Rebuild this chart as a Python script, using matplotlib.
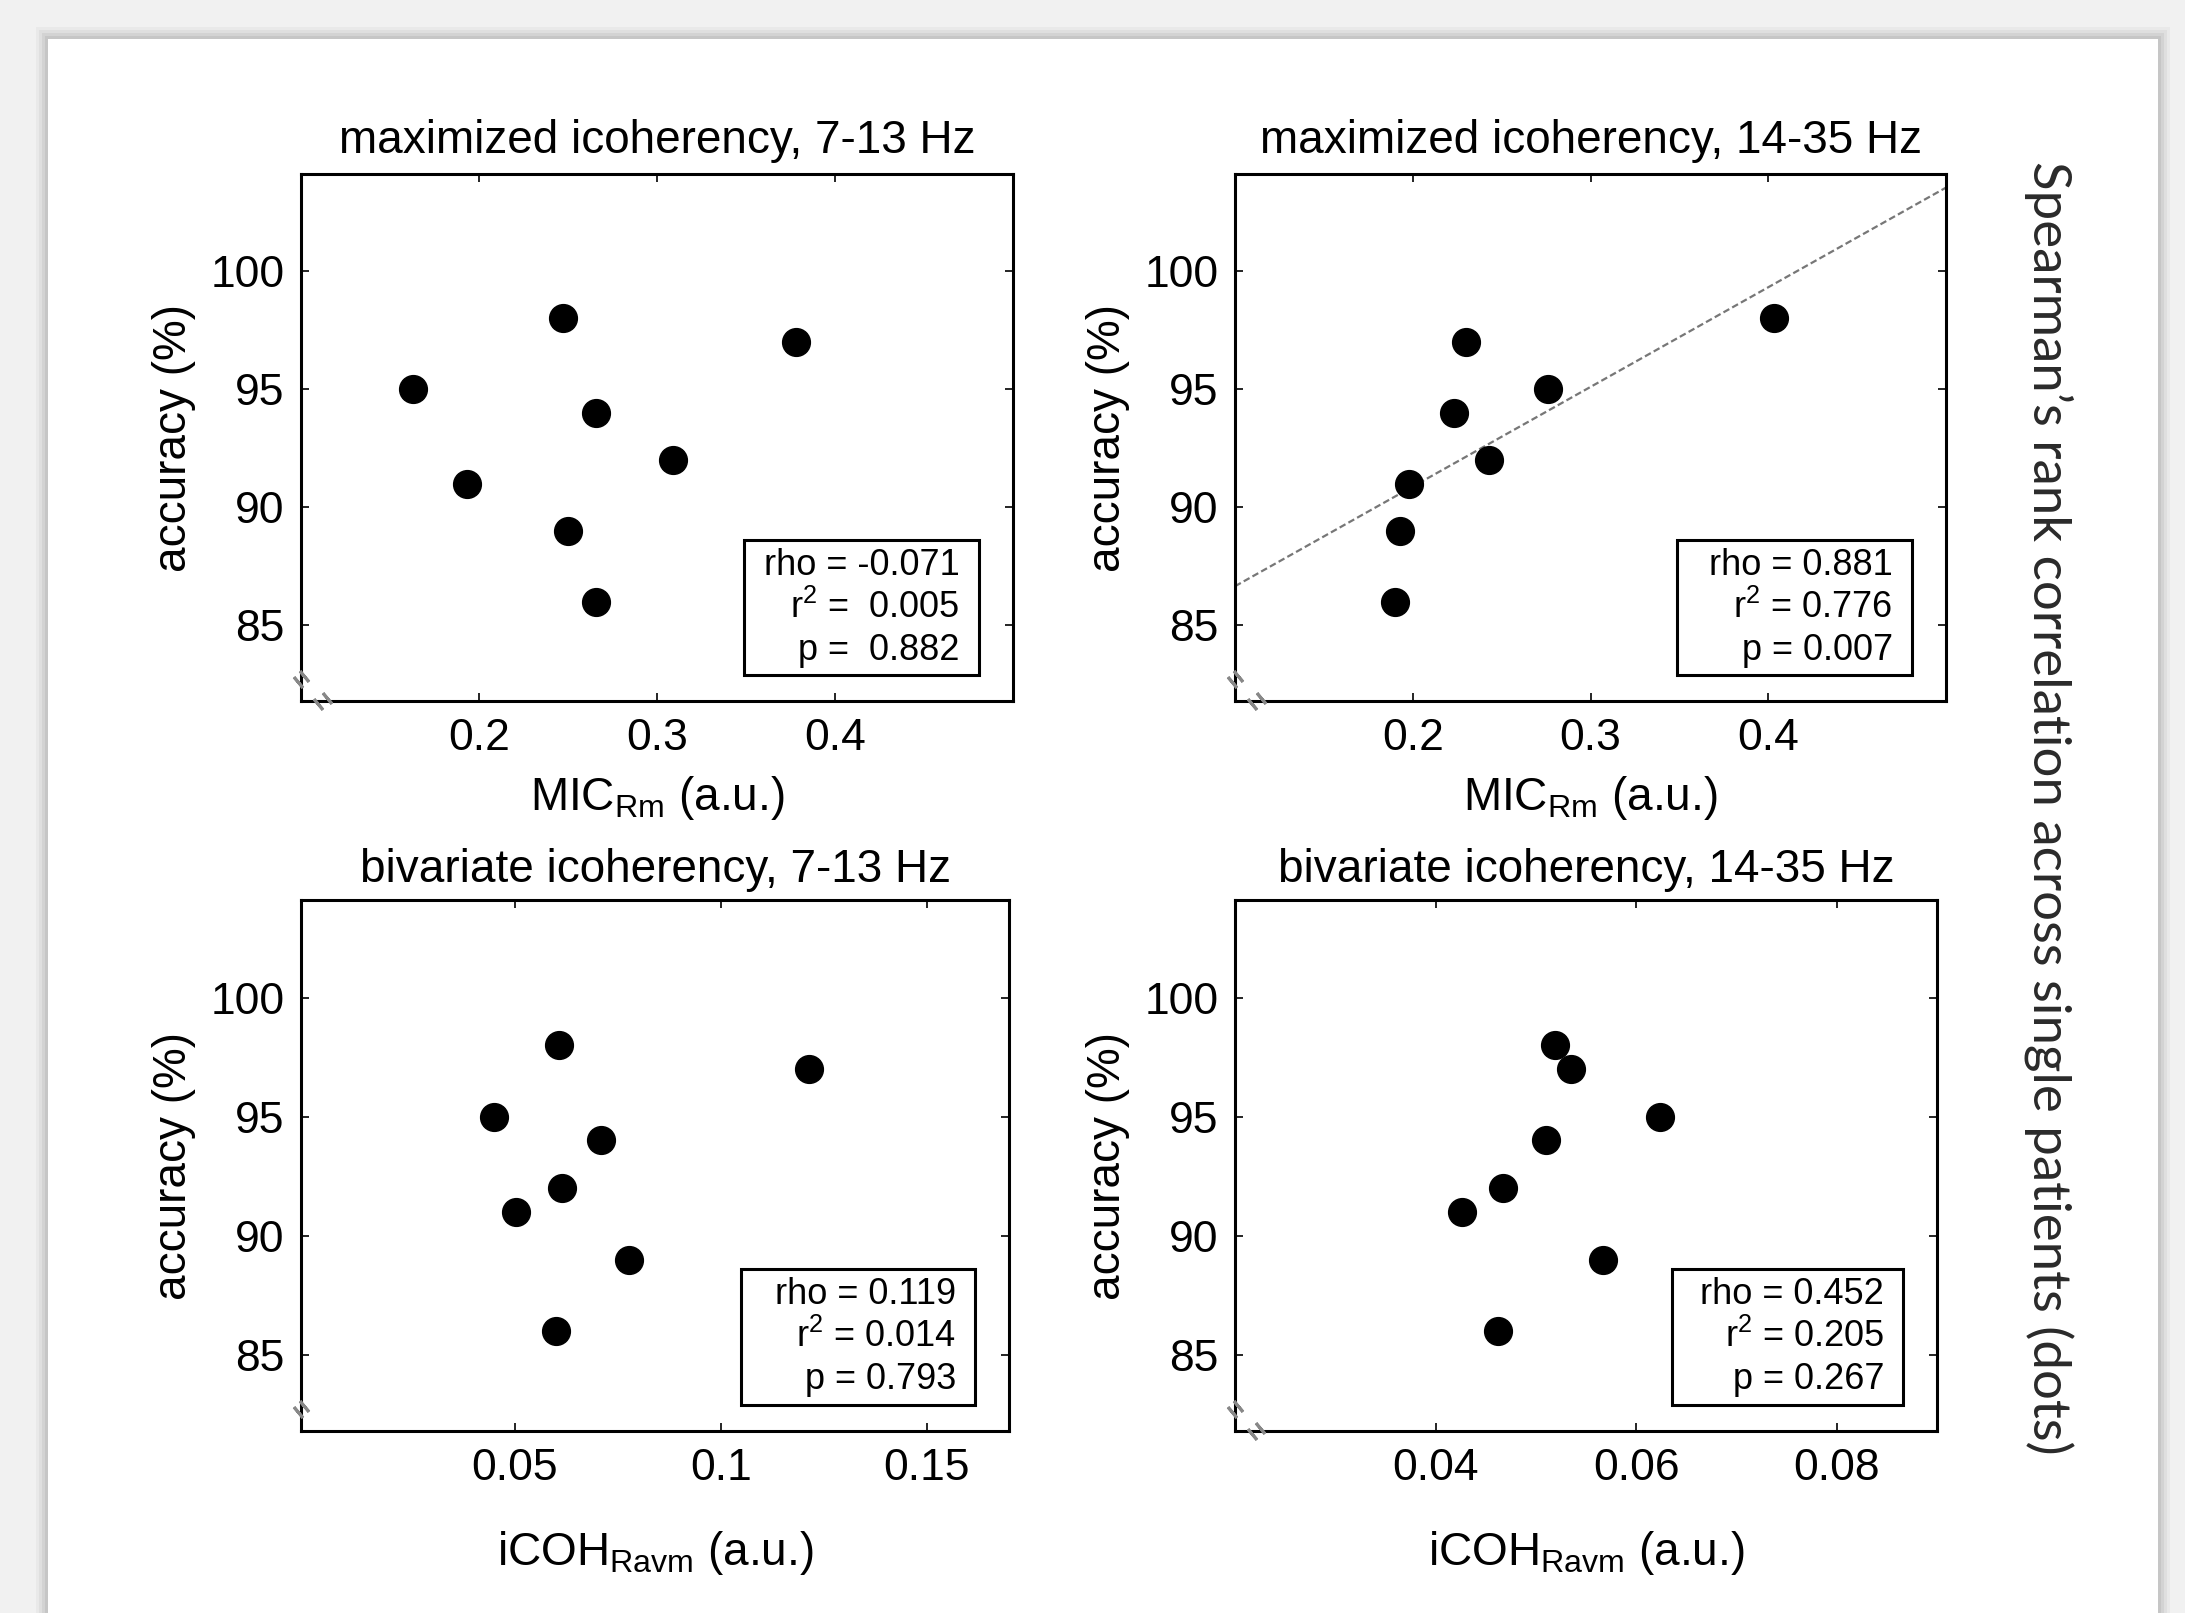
import numpy as np
import matplotlib.pyplot as plt
from matplotlib.patches import Rectangle

plt.rcParams['font.family'] = ['Liberation Sans', 'DejaVu Sans']
plt.rcParams['mathtext.fontset'] = 'custom'
plt.rcParams['mathtext.rm'] = 'Liberation Sans'
plt.rcParams['mathtext.it'] = 'Liberation Sans:italic'

# decoding accuracy of each patient (same patient order in every panel)
accuracy = [98, 97, 95, 94, 92, 91, 89, 86]

# x values per panel
mic_alpha = [0.247, 0.378, 0.163, 0.266, 0.309, 0.193, 0.250, 0.266]
mic_beta = [0.403, 0.230, 0.276, 0.223, 0.243, 0.198, 0.193, 0.190]
icoh_alpha = [0.0606, 0.1214, 0.0450, 0.0709, 0.0614, 0.0503, 0.0776, 0.0600]
icoh_beta = [0.0519, 0.0535, 0.0624, 0.0510, 0.0467, 0.0426, 0.0567, 0.0462]

titles = ['maximized icoherency, 7-13 Hz', 'maximized icoherency, 14-35 Hz',
          'bivariate icoherency, 7-13 Hz', 'bivariate icoherency, 14-35 Hz']
xlabels = [r'MIC$_{\mathrm{Rm}}$ (a.u.)', r'MIC$_{\mathrm{Rm}}$ (a.u.)',
           r'iCOH$_{\mathrm{Ravm}}$ (a.u.)', r'iCOH$_{\mathrm{Ravm}}$ (a.u.)']
stats_text = ['rho = -0.071\nr$^2$ =  0.005\np =  0.882',
              'rho = 0.881\nr$^2$ = 0.776\np = 0.007',
              'rho = 0.119\nr$^2$ = 0.014\np = 0.793',
              'rho = 0.452\nr$^2$ = 0.205\np = 0.267']
xlims = [(0.1, 0.5), (0.1, 0.5), (-0.002, 0.17), (0.02, 0.09)]
xticks = [[0.2, 0.3, 0.4], [0.2, 0.3, 0.4], [0.05, 0.1, 0.15], [0.04, 0.06, 0.08]]
xticklabels = [['0.2', '0.3', '0.4'], ['0.2', '0.3', '0.4'],
               ['0.05', '0.1', '0.15'], ['0.04', '0.06', '0.08']]
yticks = [85, 90, 95, 100]
show_fit = [False, True, False, False]

W, H = 2185, 1613
fig = plt.figure(figsize=(W / 100, H / 100), dpi=100, facecolor='#f1f1f1')

# white card with a soft shadow
for i, a in enumerate([0.03, 0.04, 0.05, 0.06]):
    off = (4 - i) * 3
    fig.patches.append(Rectangle(((48 - off) / W, 0), (2110 + 2 * off) / W,
                                 1 - (39 - off) / H, transform=fig.transFigure,
                                 facecolor='black', alpha=a, edgecolor='none', zorder=-10))
fig.patches.append(Rectangle((48 / W, 0), 2110 / W, 1 - 39 / H, transform=fig.transFigure,
                             facecolor='white', edgecolor='none', zorder=-9))

positions = [(301, 174, 712, 527), (1235, 174, 711, 527),
             (301, 900, 708, 531), (1235, 900, 702, 531)]
xdata = [mic_alpha, mic_beta, icoh_alpha, icoh_beta]

for k in range(4):
    x0, y0, w, h = positions[k]
    ax = fig.add_axes([x0 / W, 1 - (y0 + h) / H, w / W, h / H])
    ax.plot(xdata[k], accuracy, 'o', color='black', ms=20, zorder=3)
    if show_fit[k]:
        slope, icpt = np.polyfit(xdata[k], accuracy, 1)
        xx = np.array(xlims[k])
        ax.plot(xx, slope * xx + icpt, color='#777777', lw=1.6,
                linestyle=(0, (3, 1.5)), zorder=2)
    ax.set_xlim(*xlims[k])
    ax.set_ylim(81.8, 104.1)
    ax.set_xticks(xticks[k])
    ax.set_xticklabels(xticklabels[k])
    ax.set_yticks(yticks)
    ax.tick_params(direction='in', top=True, right=True, length=6, width=1.2,
                   labelsize=32, pad=12)
    for s in ax.spines.values():
        s.set_linewidth(2.2)
    top_row = k < 2
    ax.set_title(titles[k], fontsize=33, pad=15 if top_row else 13)
    ax.set_xlabel(xlabels[k], fontsize=33, labelpad=11 if top_row else 29)
    ax.set_ylabel('accuracy (%)', fontsize=33, labelpad=10)

    # statistics box
    ax.add_patch(Rectangle((0.622, 0.049), 0.33, 0.257, transform=ax.transAxes,
                           facecolor='white', edgecolor='black', lw=2.2, zorder=4))
    ax.text(0.925, 0.177, stats_text[k], transform=ax.transAxes, ha='right',
            va='center', multialignment='right', fontsize=26, linespacing=1.25,
            zorder=5)

    # axis break marks in the lower-left corner
    for dx in (-0.006, 0.006):
        ax.plot([dx * 0.6], [0.042 + dx], marker=(2, 2, 40), ms=10, mew=2.2,
                color='#888888', transform=ax.transAxes, clip_on=False, zorder=6)
        if k != 2:
            ax.plot([0.03 + dx], [dx * 0.8], marker=(2, 2, 40), ms=10, mew=2.2,
                    color='#888888', transform=ax.transAxes, clip_on=False, zorder=6)

fig.text(2048 / W, 1 - 808 / H, 'Spearman\u2019s rank correlation across single patients (dots)',
         rotation=270, ha='center', va='center', fontsize=38,
         family=['Lato', 'DejaVu Sans'], color='#2a2a2a')

fig.savefig('out.png', dpi=100, facecolor=fig.get_facecolor())
